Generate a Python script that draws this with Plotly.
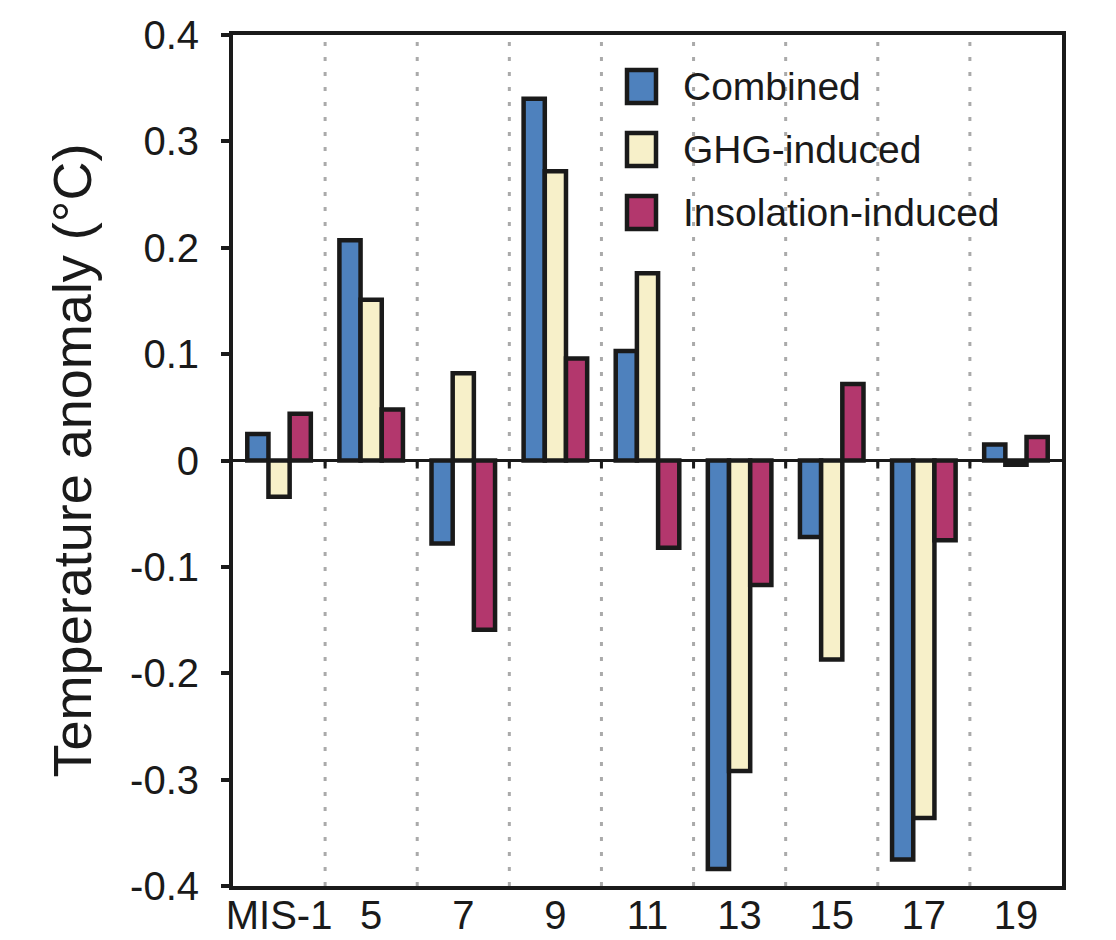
import plotly.graph_objects as go

# ---- data ----
categories = ["MIS-1", "5", "7", "9", "11", "13", "15", "17", "19"]
combined = [0.025, 0.207, -0.078, 0.340, 0.103, -0.384, -0.072, -0.375, 0.015]
ghg_induced = [-0.034, 0.151, 0.082, 0.272, 0.176, -0.292, -0.187, -0.336, -0.004]
insolation_induced = [0.044, 0.048, -0.159, 0.096, -0.082, -0.117, 0.072, -0.075, 0.022]
series_names = ["Combined", "GHG-induced", "Insolation-induced"]
series_values = [combined, ghg_induced, insolation_induced]
series_colors = ["#4e81bd", "#f7f0c9", "#b3376d"]
y_tickvals = [0.4, 0.3, 0.2, 0.1, 0.0, -0.1, -0.2, -0.3, -0.4]
y_ticktext = ["0.4", "0.3", "0.2", "0.1", "0", "-0.1", "-0.2", "-0.3", "-0.4"]

FONT = "Liberation Sans, Arial, Helvetica, sans-serif"
INK = "#1a1a1a"

fig = go.Figure()
for name, vals, col in zip(series_names, series_values, series_colors):
    fig.add_trace(go.Bar(
        x=categories, y=vals, name=name,
        marker=dict(color=col, line=dict(color=INK, width=4.5)),
        showlegend=False,
    ))

shapes = []
# dotted category dividers and small zero-line ticks
for i in range(len(categories) - 1):
    xb = i + 0.5
    shapes.append(dict(type="line", xref="x", yref="paper", x0=xb, x1=xb, y0=0, y1=1,
                       line=dict(color="#aaaaaa", width=3, dash="4px,11px"), layer="below"))
    shapes.append(dict(type="line", xref="x", yref="y", x0=xb, x1=xb,
                       ysizemode="pixel", yanchor=0, y0=0, y1=-8,
                       line=dict(color=INK, width=3), layer="above"))

# manual legend (large keys)
L, R, B, T = 233, 1062, 886, 35
W, H = R - L, B - T
def px(x): return (x - L) / W
def py(y): return (B - y) / H
annotations = []
key_tops = [70, 133, 196]
for k, (name, col) in enumerate(zip(series_names, series_colors)):
    top = key_tops[k]
    shapes.append(dict(type="rect", xref="paper", yref="paper",
                       x0=px(627), x1=px(656), y0=py(top + 33), y1=py(top),
                       fillcolor=col, line=dict(color=INK, width=4.5), layer="above"))
    annotations.append(dict(xref="paper", yref="paper", x=px(681), y=py(top + 16),
                            xanchor="left", yanchor="middle", showarrow=False,
                            text=name, font=dict(family=FONT, size=39, color=INK)))

fig.update_layout(
    width=1116, height=940,
    margin=dict(l=L, r=1116 - R, t=T, b=940 - B, pad=0),
    paper_bgcolor="white", plot_bgcolor="white",
    barmode="group", bargap=0.31, bargroupgap=0,
    font=dict(family=FONT, color=INK),
    shapes=shapes, annotations=annotations,
    xaxis=dict(
        type="category", range=[-0.5, len(categories) - 0.5],
        showline=True, linecolor=INK, linewidth=4, mirror=True,
        ticks="", showgrid=False, zeroline=False, automargin=False,
        tickfont=dict(family=FONT, size=40, color=INK),
        ticklabelstandoff=-9,
    ),
    yaxis=dict(
        range=[-0.4, 0.4], tickvals=y_tickvals, ticktext=y_ticktext,
        showline=True, linecolor=INK, linewidth=4, mirror=True,
        ticks="outside", ticklen=8, tickwidth=4, tickcolor=INK,
        showgrid=False, zeroline=True, zerolinecolor=INK, zerolinewidth=3,
        automargin=False, ticklabelstandoff=14,
        tickfont=dict(family=FONT, size=40, color=INK),
        title=dict(text="Temperature anomaly (°C)", font=dict(family=FONT, size=54, color=INK), standoff=22),
    ),
)

fig.write_html("out.html")
